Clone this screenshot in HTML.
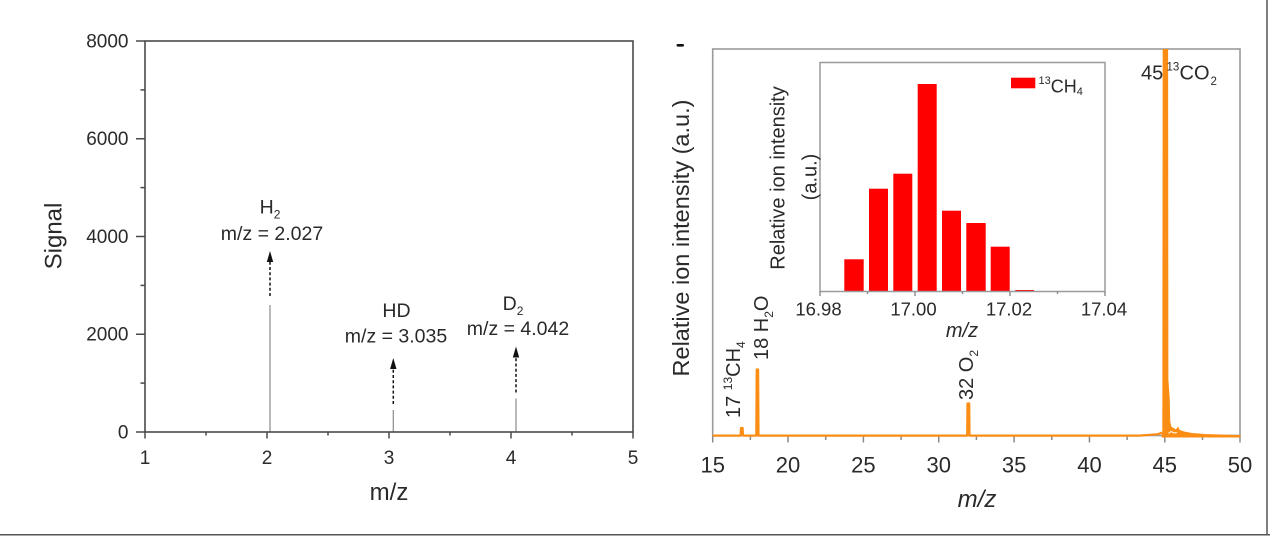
<!DOCTYPE html>
<html>
<head>
<meta charset="utf-8">
<style>
  html, body { margin: 0; padding: 0; background: #ffffff; }
  body { width: 1270px; height: 536px; overflow: hidden; }
  svg { display: block; }
  text { font-family: "Liberation Sans", Arial, Helvetica, sans-serif; fill: #2a2a2a; }
</style>
</head>
<body>
<svg width="1270" height="536" viewBox="0 0 1270 536" xmlns="http://www.w3.org/2000/svg">
  <rect x="0" y="0" width="1270" height="536" fill="#ffffff"/>

  <!-- ===================== LEFT PLOT ===================== -->
  <g stroke="#8a8a8a" stroke-width="1.2" fill="none">
    <line x1="270" y1="432" x2="270" y2="305"/>
    <line x1="393.3" y1="432" x2="393.3" y2="410"/>
    <line x1="516" y1="432" x2="516" y2="398.5"/>
  </g>
  <rect x="145" y="41" width="488" height="391" fill="none" stroke="#4a4a4a" stroke-width="1.6"/>
  <g stroke="#4a4a4a" stroke-width="1.5">
    <line x1="136" y1="432" x2="145" y2="432"/>
    <line x1="136" y1="334.25" x2="145" y2="334.25"/>
    <line x1="136" y1="236.5" x2="145" y2="236.5"/>
    <line x1="136" y1="138.75" x2="145" y2="138.75"/>
    <line x1="136" y1="41" x2="145" y2="41"/>
    <line x1="140.5" y1="383.1" x2="145" y2="383.1"/>
    <line x1="140.5" y1="285.4" x2="145" y2="285.4"/>
    <line x1="140.5" y1="187.6" x2="145" y2="187.6"/>
    <line x1="140.5" y1="89.9" x2="145" y2="89.9"/>
  </g>
  <g stroke="#4a4a4a" stroke-width="1.5">
    <line x1="145" y1="432" x2="145" y2="438.5"/>
    <line x1="267" y1="432" x2="267" y2="438.5"/>
    <line x1="389" y1="432" x2="389" y2="438.5"/>
    <line x1="511" y1="432" x2="511" y2="438.5"/>
    <line x1="633" y1="432" x2="633" y2="438.5"/>
    <line x1="206" y1="432" x2="206" y2="435.5"/>
    <line x1="328" y1="432" x2="328" y2="435.5"/>
    <line x1="450" y1="432" x2="450" y2="435.5"/>
    <line x1="572" y1="432" x2="572" y2="435.5"/>
  </g>
  <g font-size="19" text-anchor="end">
    <text x="128.5" y="438.5">0</text>
    <text x="128.5" y="340.7">2000</text>
    <text x="128.5" y="243">4000</text>
    <text x="128.5" y="145.2">6000</text>
    <text x="128.5" y="47.5">8000</text>
  </g>
  <g font-size="19" text-anchor="middle">
    <text x="145" y="464">1</text>
    <text x="267" y="464">2</text>
    <text x="389" y="464">3</text>
    <text x="511" y="464">4</text>
    <text x="633" y="464">5</text>
  </g>
  <text x="389" y="500" font-size="24" text-anchor="middle">m/z</text>
  <text transform="translate(61.5,236) rotate(-90)" font-size="24" text-anchor="middle">Signal</text>

  <g stroke="#111" stroke-width="1.5" stroke-dasharray="3,2.2" fill="none">
    <line x1="270" y1="296" x2="270" y2="261"/>
    <line x1="393.3" y1="404" x2="393.3" y2="368"/>
    <line x1="516" y1="392.5" x2="516" y2="356.5"/>
  </g>
  <g fill="#111">
    <polygon points="270,251 266.8,262 273.2,262"/>
    <polygon points="393.3,358 390.1,369 396.5,369"/>
    <polygon points="516,346.5 512.8,357.5 519.2,357.5"/>
  </g>
  <g font-size="19.5" text-anchor="middle">
    <text x="270" y="213.5">H<tspan font-size="12" dy="5">2</tspan></text>
    <text x="272" y="240">m/z = 2.027</text>
    <text x="396.5" y="317">HD</text>
    <text x="396" y="342.5">m/z = 3.035</text>
    <text x="513" y="310">D<tspan font-size="12" dy="5">2</tspan></text>
    <text x="518" y="335">m/z = 4.042</text>
  </g>

  <!-- ===================== RIGHT PLOT ===================== -->
  <rect x="676.5" y="44" width="7.5" height="2.6" rx="1.2" fill="#111"/>
  <rect x="712.7" y="49" width="527.3" height="386.5" fill="none" stroke="#9a9a9a" stroke-width="1.6"/>

  <g stroke="#8a8a8a" stroke-width="1.5">
    <line x1="712.7" y1="436" x2="712.7" y2="442.5"/>
    <line x1="788.05" y1="436" x2="788.05" y2="442.5"/>
    <line x1="863.4" y1="436" x2="863.4" y2="442.5"/>
    <line x1="938.75" y1="436" x2="938.75" y2="442.5"/>
    <line x1="1014.1" y1="436" x2="1014.1" y2="442.5"/>
    <line x1="1089.45" y1="436" x2="1089.45" y2="442.5"/>
    <line x1="1164.8" y1="436" x2="1164.8" y2="442.5"/>
    <line x1="1240" y1="436" x2="1240" y2="442.5"/>
    <line x1="750.4" y1="436" x2="750.4" y2="440"/>
    <line x1="825.7" y1="436" x2="825.7" y2="440"/>
    <line x1="901.1" y1="436" x2="901.1" y2="440"/>
    <line x1="976.4" y1="436" x2="976.4" y2="440"/>
    <line x1="1051.8" y1="436" x2="1051.8" y2="440"/>
    <line x1="1127.1" y1="436" x2="1127.1" y2="440"/>
    <line x1="1202.5" y1="436" x2="1202.5" y2="440"/>
  </g>
  <g font-size="22" text-anchor="middle">
    <text x="712.7" y="472.5">15</text>
    <text x="788.05" y="472.5">20</text>
    <text x="863.4" y="472.5">25</text>
    <text x="938.75" y="472.5">30</text>
    <text x="1014.1" y="472.5">35</text>
    <text x="1089.45" y="472.5">40</text>
    <text x="1164.8" y="472.5">45</text>
    <text x="1240" y="472.5">50</text>
  </g>
  <text x="977" y="507" font-size="24" font-style="italic" text-anchor="middle">m/z</text>
  <text transform="translate(689,238) rotate(-90)" font-size="23.5" text-anchor="middle">Relative ion intensity (a.u.)</text>

  <!-- ===== INSET ===== -->
  <g fill="#ff0000">
    <rect x="844.3" y="259.3" width="19.4" height="32.2"/>
    <rect x="869" y="188.7" width="19" height="102.8"/>
    <rect x="893.3" y="173.7" width="19" height="117.8"/>
    <rect x="917.7" y="84" width="19" height="207.5"/>
    <rect x="942" y="210.7" width="19" height="80.8"/>
    <rect x="966.3" y="223" width="19.4" height="68.5"/>
    <rect x="990.7" y="246.7" width="19" height="44.8"/>
    <rect x="1015.3" y="290" width="18.7" height="1.5"/>
  </g>
  <rect x="820" y="62.5" width="285" height="229" fill="none" stroke="#9a9a9a" stroke-width="1.5"/>
  <g stroke="#8a8a8a" stroke-width="1.4">
    <line x1="820" y1="291.5" x2="820" y2="296"/>
    <line x1="915" y1="291.5" x2="915" y2="296"/>
    <line x1="1010" y1="291.5" x2="1010" y2="296"/>
    <line x1="1105" y1="291.5" x2="1105" y2="296"/>
    <line x1="867.5" y1="291.5" x2="867.5" y2="294"/>
    <line x1="962.5" y1="291.5" x2="962.5" y2="294"/>
    <line x1="1057.5" y1="291.5" x2="1057.5" y2="294"/>
  </g>
  <g font-size="18.5" text-anchor="middle">
    <text x="818.5" y="315.5">16.98</text>
    <text x="913.5" y="315.5">17.00</text>
    <text x="1009" y="315.5">17.02</text>
    <text x="1104" y="315.5">17.04</text>
  </g>
  <text x="962" y="337" font-size="20" font-style="italic" text-anchor="middle">m/z</text>
  <text transform="translate(784.5,178) rotate(-90)" font-size="20" text-anchor="middle">Relative ion intensity</text>
  <text transform="translate(816.5,177) rotate(-90)" font-size="20" text-anchor="middle">(a.u.)</text>
  <!-- legend -->
  <rect x="1011" y="77.7" width="24.3" height="10.6" fill="#ff0000"/>
  <text x="1038.5" y="92.5" font-size="18"><tspan font-size="11" dy="-8.5">13</tspan><tspan dy="8.5">CH</tspan><tspan font-size="11" dy="2.5">4</tspan></text>

  <!-- ===== SPECTRUM ===== -->
  <defs>
    <clipPath id="rc"><rect x="712" y="49" width="529" height="400"/></clipPath>
  </defs>
  <g clip-path="url(#rc)">
    <polyline fill="none" stroke="#fb8c14" stroke-width="2.2" stroke-linejoin="round"
      points="712.7,435.6 740.6,435.6 741,428 742.6,428 743,435.6 756.3,435.6 756.7,369.5 758.1,369.5 758.5,435.6 967.2,435.6 967.5,403.5 969.2,403.5 969.5,435.6 1140,435.6 1150,434.8 1158,434.2 1162,432.5"/>
    <polygon fill="#fb8c14" stroke="#fb8c14" stroke-width="1"
      points="1162,435.6 1162.8,432 1163.2,40 1167.6,40 1167.9,380 1169.2,398 1169.8,422 1171,427 1173.5,428.5 1176,430 1178,427.5 1179.5,430.5 1184,432 1192,433.5 1205,434.5 1220,435 1240,435.6 1240,437 1162,437"/>
    <polyline fill="none" stroke="#ffffff" stroke-width="1"
      points="1168.5,433.5 1171,431.5 1174,433 1177,432.5"/>
  </g>
  <text transform="translate(740,418) rotate(-90)" font-size="20">17 <tspan font-size="12" dy="-8">13</tspan><tspan dy="8">CH</tspan><tspan font-size="12" dy="5">4</tspan></text>
  <text transform="translate(768,360) rotate(-90)" font-size="20">18 H<tspan font-size="12" dy="5">2</tspan><tspan dy="-5">O</tspan></text>
  <text transform="translate(973,400) rotate(-90)" font-size="20">32 O<tspan font-size="12" dy="5">2</tspan></text>
  <text x="1141" y="79.5" font-size="20">45</text>
  <text x="1166.5" y="70.5" font-size="11.5">13</text>
  <text x="1179.5" y="79.5" font-size="20">CO</text>
  <text x="1210.5" y="85" font-size="11.5">2</text>

  <line x1="1267" y1="0" x2="1267" y2="535" stroke="#555" stroke-width="1.5"/>
  <line x1="0" y1="534.8" x2="1270" y2="534.8" stroke="#555" stroke-width="1.5"/>
</svg>
</body>
</html>
